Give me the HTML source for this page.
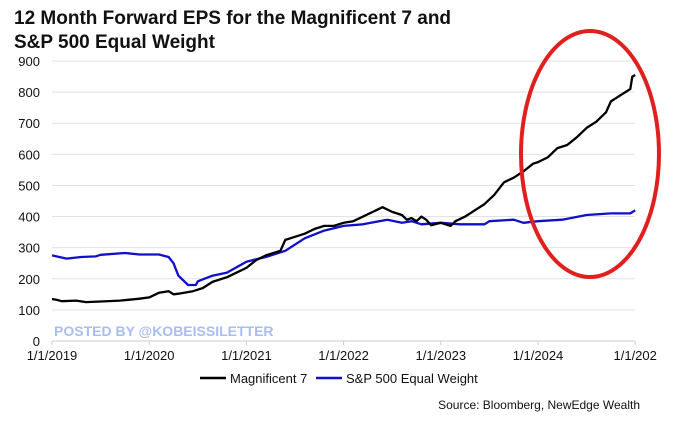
<!DOCTYPE html>
<html><head><meta charset="utf-8"><style>
body{margin:0;background:#fff;width:680px;height:428px;overflow:hidden;font-family:"Liberation Sans",Arial,sans-serif}
</style></head><body>
<svg width="680" height="428" id="chart" xmlns="http://www.w3.org/2000/svg">
<text x="14" y="24" font-size="19" font-weight="bold" fill="#111">12 Month Forward EPS for the Magnificent 7 and</text>
<text x="14" y="48" font-size="19" font-weight="bold" fill="#111">S&amp;P 500 Equal Weight</text>
<g id="grid"></g><g id="axes"></g><g id="series"></g>
<text x="54" y="336" font-size="14" font-weight="bold" fill="#a9bdf0">POSTED BY @KOBEISSILETTER</text>
<ellipse cx="590" cy="154" rx="69" ry="123" fill="none" stroke="#e0201e" stroke-width="4"/>
<line x1="200" y1="378" x2="226" y2="378" stroke="#000" stroke-width="2.5"/>
<text x="230" y="383" font-size="13" fill="#111">Magnificent 7</text>
<line x1="316" y1="378" x2="342" y2="378" stroke="#1010c8" stroke-width="2.5"/>
<text x="346" y="383" font-size="13" fill="#111">S&amp;P 500 Equal Weight</text>
<text x="640" y="409" font-size="12" fill="#111" text-anchor="end">Source: Bloomberg, NewEdge Wealth</text>
</svg>
<script>
const yTicks=[0,100,200,300,400,500,600,700,800,900];
const xTickYears=[2019,2020,2021,2022,2023,2024,2025];
const xTickLabels=["1/1/2019","1/1/2020","1/1/2021","1/1/2022","1/1/2023","1/1/2024","1/1/202"];
const magT=[2019.0,2019.05,2019.1,2019.25,2019.35,2019.5,2019.7,2019.9,2020.0,2020.1,2020.2,2020.25,2020.3,2020.45,2020.55,2020.65,2020.8,2021.0,2021.1,2021.2,2021.3,2021.35,2021.4,2021.5,2021.6,2021.7,2021.8,2021.9,2022.0,2022.1,2022.2,2022.3,2022.4,2022.5,2022.6,2022.65,2022.7,2022.75,2022.8,2022.85,2022.9,2023.0,2023.1,2023.15,2023.25,2023.35,2023.45,2023.55,2023.65,2023.75,2023.85,2023.95,2024.0,2024.1,2024.2,2024.3,2024.4,2024.5,2024.6,2024.7,2024.75,2024.85,2024.95,2024.97,2025.0];
const magV=[135,132,128,130,125,127,130,136,140,155,160,150,152,160,170,190,205,235,260,275,285,290,325,335,345,360,370,370,380,385,400,415,430,415,405,390,395,385,400,390,372,380,370,385,400,420,440,470,510,525,545,570,575,590,620,630,655,685,705,735,770,790,810,850,855];
const ewT=[2019.0,2019.15,2019.3,2019.45,2019.5,2019.75,2019.9,2020.0,2020.1,2020.2,2020.25,2020.3,2020.4,2020.48,2020.5,2020.65,2020.8,2021.0,2021.2,2021.4,2021.6,2021.8,2022.0,2022.2,2022.45,2022.6,2022.7,2022.8,2023.0,2023.2,2023.45,2023.5,2023.75,2023.85,2024.0,2024.25,2024.5,2024.75,2024.95,2025.0];
const ewV=[275,265,270,272,277,283,278,278,278,270,250,210,180,180,192,210,220,255,270,290,330,355,370,375,390,380,385,375,380,375,375,385,390,380,385,390,405,410,410,420];
const NS="http://www.w3.org/2000/svg";
const X=t=>52+(t-2019)*97.2, Y=v=>341-v*280/900;
const g=document.getElementById('grid'),a=document.getElementById('axes'),s=document.getElementById('series');
function mk(tag,at,p){const e=document.createElementNS(NS,tag);for(const k in at)e.setAttribute(k,at[k]);p.appendChild(e);return e;}
yTicks.forEach(v=>{
 const l=mk('line',{x1:52,x2:635,y1:Y(v),y2:Y(v),stroke:v?'#e2e2e2':'#ccc','stroke-width':1},g);
 
 
 const t=mk('text',{x:40,y:Y(v)+5,'font-size':13,'text-anchor':'end',fill:'#111'},a);t.textContent=v;
 
 
});
xTickYears.forEach((yr,i)=>{
 const tk=mk('line',{x1:X(yr),x2:X(yr),y1:341,y2:345,stroke:'#ccc'},a);
 
 
 const t=mk('text',{x:X(yr),y:360,'font-size':13,'text-anchor':'middle',fill:'#111'},a);t.textContent=xTickLabels[i];
 
 
});
function path(T,V){let d='';T.forEach((t,i)=>{d+=(i?'L':'M')+X(t).toFixed(1)+','+Y(V[i]).toFixed(1);});return d;}
const pe=mk('path',{d:path(ewT,ewV),fill:'none',stroke:'#1010c8','stroke-width':2.3,'stroke-linejoin':'round'},s);


const pm=mk('path',{d:path(magT,magV),fill:'none',stroke:'#000','stroke-width':2.3,'stroke-linejoin':'round'},s);


</script>
</body></html>
